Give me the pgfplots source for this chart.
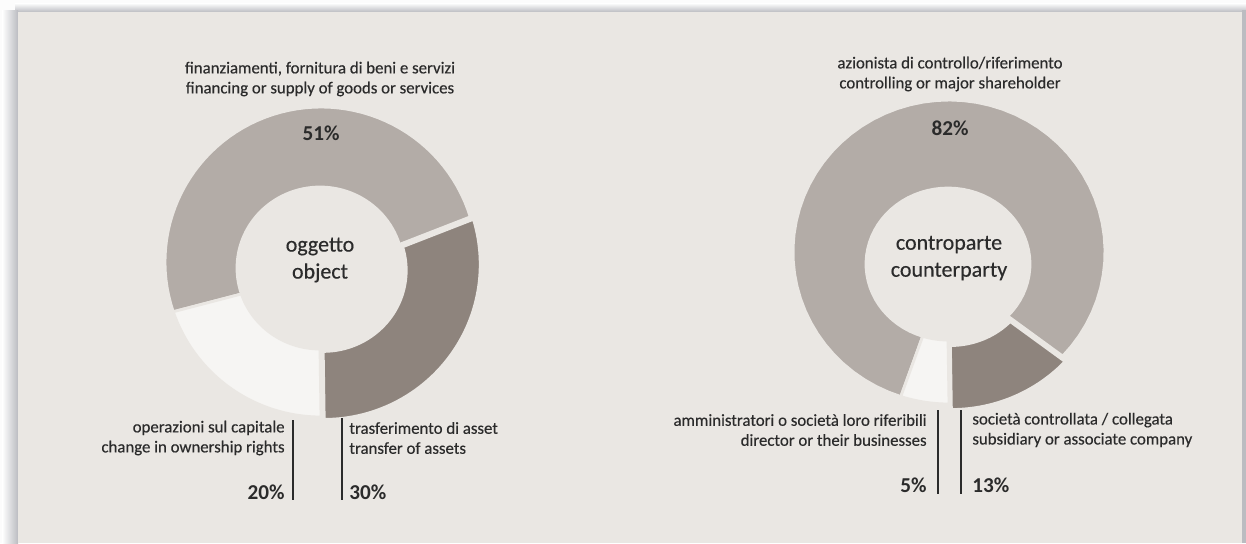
\documentclass[border=0pt]{standalone}
\usepackage{fontspec}
\setmainfont{Carlito}
\newfontfamily\medfont{Carlito}[FakeBold=0.35]
\usepackage{pgfplots}
\pgfplotsset{compat=1.18}
\usepackage{pgfplotstable}
\definecolor{panel}{HTML}{EAE7E3}
\definecolor{shadowc}{HTML}{BBBCC1}
\definecolor{bigc}{HTML}{B3ACA7}
\definecolor{darkc}{HTML}{8E847D}
\definecolor{lightc}{HTML}{F6F5F3}
\definecolor{txt}{HTML}{2B2B2B}
\newcommand\lbl{\medfont\fontsize{8.4}{10}\selectfont}
\newcommand\pct{\fontsize{10.6}{12}\selectfont\bfseries}
\newcommand\ctr{\medfont\fontsize{11}{13.5}\selectfont}
\pgfplotstableread{
slice value
asset 30
finanziamenti 51
capitale 20
}\objtable
\pgfplotstableread{
slice value
controllata 13
azionista 82
amministratori 5
}\cptable
\pgfplotsset{pix/.style={hide axis, scale only axis, x=0.5pt, y=0.5pt,
  xmin=0, xmax=1246, ymin=0, ymax=543, y dir=reverse, clip=false}}
% donut geometry (pixels): outer centre, outer radii, inner centre, inner radii
\def\Lox{321}\def\Loy{262}\def\LRx{156}\def\LRy{155}
\def\Lix{320}\def\Liy{268}\def\Lrx{83}\def\Lry{81}
\def\Rox{949}\def\Roy{252}\def\RRx{156}\def\RRy{152}
\def\Rix{948}\def\Riy{264}\def\Rrx{82}\def\Rry{76}
% #1 donut (L/R), #2 start angle, #3 end angle, #4 colour, #5 explode
% t = 0..60 : outer arc from #2 to #3 ; t = 61..121 : inner arc back from #3 to #2
\newcommand\slice[5]{%
\edef\ox{\csname #1ox\endcsname}\edef\oy{\csname #1oy\endcsname}%
\edef\ORx{\csname #1Rx\endcsname}\edef\ORy{\csname #1Ry\endcsname}%
\edef\ix{\csname #1ix\endcsname}\edef\iy{\csname #1iy\endcsname}%
\edef\irx{\csname #1rx\endcsname}\edef\iry{\csname #1ry\endcsname}%
\edef\slicecmd{\noexpand\addplot[fill=#4, draw=panel, line width=1.4pt, variable=\noexpand\t, samples at={0,1,...,121}]
 ({#5*cos((#2+#3)/2)+(\noexpand\t<60.5 ? \ox+\ORx*cos(#2+(#3-#2)*\noexpand\t/60) : \ix+\irx*cos(#3-(#3-#2)*(\noexpand\t-61)/60))},
  {-#5*sin((#2+#3)/2)+(\noexpand\t<60.5 ? \oy-\ORy*sin(#2+(#3-#2)*\noexpand\t/60) : \iy-\iry*sin(#3-(#3-#2)*(\noexpand\t-61)/60))}) -- cycle;}%
\slicecmd
}
\begin{document}%
\pgfplotstablegetelem{0}{value}\of\objtable\let\oA\pgfplotsretval%
\pgfplotstablegetelem{1}{value}\of\objtable\let\oB\pgfplotsretval%
\pgfplotstablegetelem{2}{value}\of\objtable\let\oC\pgfplotsretval%
\pgfmathsetmacro\oT{\oA+\oB+\oC}%
\pgfmathsetmacro\oa{-90+\oA/\oT*360}%
\pgfmathsetmacro\ob{\oa+\oB/\oT*360}%
\pgfplotstablegetelem{0}{value}\of\cptable\let\cA\pgfplotsretval%
\pgfplotstablegetelem{1}{value}\of\cptable\let\cB\pgfplotsretval%
\pgfplotstablegetelem{2}{value}\of\cptable\let\cC\pgfplotsretval%
\pgfmathsetmacro\cT{\cA+\cB+\cC}%
\pgfmathsetmacro\ca{-90+\cA/\cT*360}%
\pgfmathsetmacro\cb{\ca+\cB/\cT*360}%
\begin{tikzpicture}
\begin{axis}[pix]
\fill[white!96!shadowc] (0,0) rectangle (1246,543);
\shade[top color=white, bottom color=shadowc] (15,3) rectangle (1246,12);
\shade[left color=white, right color=shadowc] (2,10) rectangle (18,543);
\fill[shadowc] (1242,10) rectangle (1246,543);
\fill[panel] (18,12) rectangle (1242,543);
\end{axis}
\begin{axis}[pix]
% left donut
\slice{L}{-90}{\oa}{darkc}{4}
\slice{L}{\oa}{\ob}{bigc}{0}
\slice{L}{\ob}{270}{lightc}{0}
% right donut
\slice{R}{-90}{\ca}{darkc}{6}
\slice{R}{\ca}{\cb}{bigc}{0}
\slice{R}{\cb}{270}{lightc}{0}
% texts
\begin{scope}[every node/.style={text=txt, inner sep=0pt}]
\node[font=\lbl, align=center] at (320,79) {finanziamenti, fornitura di beni e servizi\\financing or supply of goods or services};
\node[font=\lbl, align=center] at (950,74) {azionista di controllo/riferimento\\controlling or major shareholder};
\node[font=\pct] at (321,133) {51\%};
\node[font=\pct] at (950,128) {82\%};
\node[font=\ctr, align=center] at (320,260) {oggetto\\object};
\node[font=\ctr, align=center] at (949,258) {controparte\\counterparty};
\node[font=\lbl, align=right, anchor=east] at (285,438) {operazioni sul capitale\\change in ownership rights};
\node[font=\pct, anchor=east] at (285,492) {20\%};
\node[font=\lbl, align=left, anchor=west] at (349,438) {trasferimento di asset\\transfer of assets};
\node[font=\pct, anchor=west] at (349,492) {30\%};
\node[font=\lbl, align=right, anchor=east] at (927,430) {amministratori o società loro riferibili\\director or their businesses};
\node[font=\pct, anchor=east] at (927,485) {5\%};
\node[font=\lbl, align=left, anchor=west] at (972,430) {società controllata / collegata\\subsidiary or associate company};
\node[font=\pct, anchor=west] at (972,485) {13\%};
\end{scope}
\draw[txt, line width=0.75pt] (293,420) -- (293,500);
\draw[txt, line width=0.75pt] (342,418) -- (342,500);
\draw[txt, line width=0.75pt] (938,410) -- (938,494);
\draw[txt, line width=0.75pt] (961,410) -- (961,494);
\end{axis}
\end{tikzpicture}%
\end{document}
